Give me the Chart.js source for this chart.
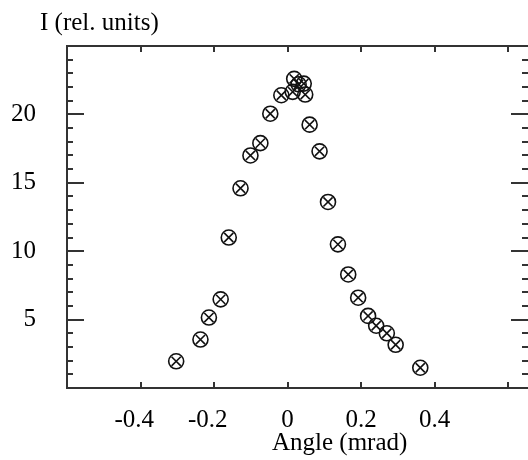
<!DOCTYPE html>
<html>
<head>
<meta charset="utf-8">
<title>Intensity vs angle</title>
<script src="https://cdn.jsdelivr.net/npm/chart.js@4.4.1/dist/chart.umd.min.js"></script>
<style>
    html, body { margin: 0; padding: 0; background: #fff; overflow: hidden; }
    #wrap { width: 528px; height: 460px; }
</style>
</head>
<body>
<div id="wrap"><canvas id="chart" width="528" height="460"></canvas></div>
<script>
// Measured points (angle in mrad, intensity in rel. units)
const angle = [
    -0.303, -0.237, -0.214, -0.182, -0.160, -0.128, -0.101, -0.074, -0.047, -0.017,
    0.018, 0.014, 0.030, 0.044, 0.048,
    0.060, 0.087, 0.110, 0.137, 0.165, 0.192, 0.219, 0.241, 0.270, 0.294, 0.361
];
const intensity = [
    1.95, 3.54, 5.15, 6.48, 11.0, 14.6, 17.0, 17.9, 20.05, 21.4,
    22.6, 21.65, 22.2, 22.25, 21.45,
    19.25, 17.3, 13.6, 10.5, 8.3, 6.6, 5.27, 4.55, 4.0, 3.16, 1.48
];

// Axis ticks
const xTicks = [-0.6, -0.4, -0.2, 0, 0.2, 0.4, 0.6];
const xTickLabels = ['', '-0.4', '-0.2', '0', '0.2', '0.4', ''];
const yMajorTicks = [5, 10, 15, 20];
const yMinorStep = 1;

const serif = "'Liberation Serif', 'Times New Roman', serif";
const points = angle.map((a, i) => ({ x: a, y: intensity[i] }));

// Frame with inward ticks plus the two axis titles
const framePlugin = {
    id: 'frame',
    afterDraw(chart) {
        const { ctx, chartArea: a, scales } = chart;
        ctx.save();
        ctx.strokeStyle = '#333';
        ctx.lineWidth = 2;
        ctx.beginPath();
        ctx.moveTo(a.right + 2, a.top);
        ctx.lineTo(a.left, a.top);
        ctx.lineTo(a.left, a.bottom);
        ctx.lineTo(a.right + 2, a.bottom);
        ctx.stroke();

        ctx.beginPath();
        xTicks.forEach(v => {
            const px = Math.round(scales.x.getPixelForValue(v));
            if (px <= a.left + 1) return;
            ctx.moveTo(px, a.bottom);
            ctx.lineTo(px, a.bottom - 6);
            ctx.moveTo(px, a.top);
            ctx.lineTo(px, a.top + 6);
        });
        scales.y.ticks.forEach(t => {
            if (t.value <= 0 || t.value >= 25) return;
            const py = Math.round(scales.y.getPixelForValue(t.value));
            const len = yMajorTicks.includes(t.value) ? 17 : 6;
            ctx.moveTo(a.left, py);
            ctx.lineTo(a.left + len, py);
            ctx.moveTo(a.right, py);
            ctx.lineTo(a.right - len, py);
        });
        ctx.stroke();

        ctx.fillStyle = '#000';
        ctx.font = '25px ' + serif;
        ctx.textBaseline = 'alphabetic';
        ctx.textAlign = 'left';
        ctx.fillText('I (rel. units)', 40, 30);
        ctx.fillText('Angle (mrad)', 272, 450);
        ctx.restore();
    }
};

new Chart(document.getElementById('chart'), {
    type: 'scatter',
    data: {
        datasets: [
            {
                data: points,
                pointStyle: 'circle',
                pointRadius: 7.5,
                borderColor: '#111',
                backgroundColor: 'rgba(0,0,0,0)',
                borderWidth: 1.6
            },
            {
                data: points,
                pointStyle: 'crossRot',
                pointRadius: 6.5,
                borderColor: '#111',
                borderWidth: 1.6
            }
        ]
    },
    options: {
        responsive: false,
        animation: false,
        events: [],
        layout: {
            autoPadding: false,
            padding: { top: 42, right: 0, left: 0, bottom: 0 }
        },
        plugins: {
            legend: { display: false },
            tooltip: { enabled: false }
        },
        scales: {
            x: {
                type: 'linear',
                min: -0.6,
                max: 0.654,
                grid: { display: false, drawTicks: false },
                border: { display: false },
                afterBuildTicks: scale => {
                    scale.ticks = xTicks.map(v => ({ value: v }));
                },
                afterFit: scale => { scale.height = 72; },
                ticks: {
                    autoSkip: false,
                    maxRotation: 0,
                    padding: 17,
                    color: '#000',
                    font: { family: serif, size: 25 },
                    // digits sit centred on the tick, the minus sign hangs to the left
                    callback: (v, i) => {
                        const lbl = xTickLabels[i];
                        return lbl.startsWith('-') ? lbl + '\u2002' : lbl;
                    }
                }
            },
            y: {
                type: 'linear',
                min: 0,
                max: 25,
                grid: { display: false, drawTicks: false },
                border: { display: false },
                afterBuildTicks: scale => {
                    const t = [];
                    for (let v = 0; v <= 25; v += yMinorStep) t.push({ value: v });
                    scale.ticks = t;
                },
                afterFit: scale => { scale.width = 67; },
                ticks: {
                    autoSkip: false,
                    padding: 31,
                    color: '#000',
                    font: { family: serif, size: 25 },
                    callback: v => yMajorTicks.includes(v) ? String(v) : ''
                }
            }
        }
    },
    plugins: [framePlugin]
});
</script>
</body>
</html>
